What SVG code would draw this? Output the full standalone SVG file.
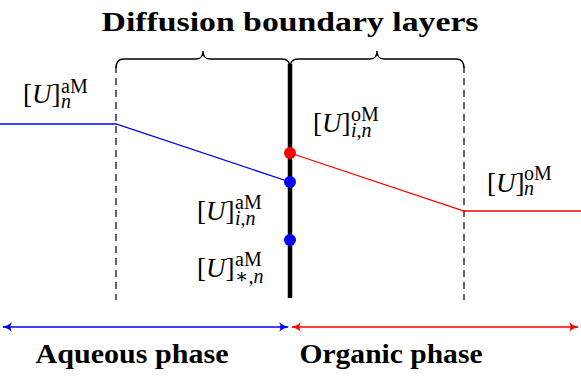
<svg xmlns="http://www.w3.org/2000/svg" width="581" height="379" viewBox="0 0 581 379">
<defs>
<style>
.t{font-family:"Liberation Serif","DejaVu Serif",serif;fill:#000}
.b{font-weight:bold;font-size:28px}
.m{font-size:27px}
.s{font-size:20px}
.i{font-style:italic}
.n{font-style:normal}
.dash{stroke:#000;stroke-width:1.2;stroke-dasharray:7,5;fill:none}
.brace{stroke:#000;stroke-width:1.3;fill:none}
</style>
<marker id="ab" viewBox="0 0 10 10" refX="9" refY="5" markerWidth="10" markerHeight="10" markerUnits="userSpaceOnUse" orient="auto-start-reverse">
<path d="M0,0 Q4,4 10,5 Q4,6 0,10 Q3,5 0,0 Z" fill="#0000ff"/>
</marker>
<marker id="ar" viewBox="0 0 10 10" refX="9" refY="5" markerWidth="10" markerHeight="10" markerUnits="userSpaceOnUse" orient="auto-start-reverse">
<path d="M0,0 Q4,4 10,5 Q4,6 0,10 Q3,5 0,0 Z" fill="#ff0000"/>
</marker>
</defs>
<text class="t b" x="290" y="31" text-anchor="middle" textLength="377" lengthAdjust="spacingAndGlyphs">Diffusion boundary layers</text>
<g id="braces">
<path class="brace" d="M116,68 Q116,59 124,59 L196,59 Q203,59 203,51 Q203,59 210,59 L282,59 Q290,59 290,68"/>
<path class="brace" d="M290,68 Q290,59 298,59 L370,59 Q377,59 377,51 Q377,59 384,59 L456,59 Q464,59 464,68"/>
</g>
<g id="boundaries">
<line class="dash" x1="116" y1="66" x2="116" y2="300"/>
<line class="dash" x1="464" y1="66" x2="464" y2="300"/>
</g>
<g id="connectors">
<polyline points="0,124 116,124 290,182" fill="none" stroke="#0000ff" stroke-width="1.3"/>
<polyline points="290,153 464,211 581,211" fill="none" stroke="#ff0000" stroke-width="1.3"/>
<line x1="3" y1="327" x2="288" y2="327" stroke="#0000ff" stroke-width="1.3" marker-start="url(#ab)" marker-end="url(#ab)"/>
<line x1="292" y1="327" x2="578" y2="327" stroke="#ff0000" stroke-width="1.3" marker-start="url(#ar)" marker-end="url(#ar)"/>
</g>
<g id="interface">
<line x1="290" y1="64" x2="290" y2="298" stroke="#000" stroke-width="4.5"/>
</g>
<g id="dot-oM-i"><circle cx="290" cy="153" r="6" fill="#ff0000"/></g>
<g id="dot-aM-i"><circle cx="290" cy="182" r="6" fill="#0000ff"/></g>
<g id="dot-aM-star"><circle cx="290" cy="240" r="6" fill="#0000ff"/></g>
<g id="label-aM-n">
<text class="t m" x="23" y="103">[<tspan class="i">U</tspan>]<tspan class="s" x="61" y="93">aM</tspan><tspan class="s i" x="61" y="108">n</tspan></text>
</g>
<g id="label-oM-in">
<text class="t m" x="313" y="132">[<tspan class="i">U</tspan>]<tspan class="s" x="351" y="121">oM</tspan><tspan class="s i" x="351" y="137">i<tspan class="n">,</tspan>n</tspan></text>
</g>
<g id="label-aM-in">
<text class="t m" x="197" y="220">[<tspan class="i">U</tspan>]<tspan class="s" x="235" y="209">aM</tspan><tspan class="s i" x="235" y="225">i<tspan class="n">,</tspan>n</tspan></text>
</g>
<g id="label-aM-star">
<text class="t m" x="197" y="277">[<tspan class="i">U</tspan>]<tspan class="s" x="235" y="266">aM</tspan><tspan class="s" x="235" y="283">∗,<tspan class="i">n</tspan></tspan></text>
</g>
<g id="label-oM-n">
<text class="t m" x="487" y="192">[<tspan class="i">U</tspan>]<tspan class="s" x="524" y="180">oM</tspan><tspan class="s i" x="524" y="195">n</tspan></text>
</g>
<text class="t b" x="132" y="363" text-anchor="middle" textLength="193" lengthAdjust="spacingAndGlyphs">Aqueous phase</text>
<text class="t b" x="391" y="363" text-anchor="middle" textLength="183" lengthAdjust="spacingAndGlyphs">Organic phase</text>
</svg>
